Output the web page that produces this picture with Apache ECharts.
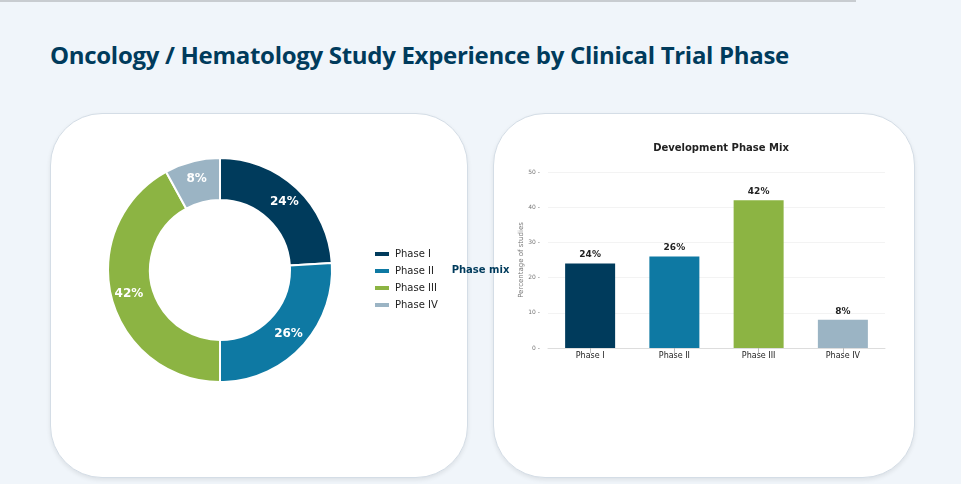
<!DOCTYPE html>
<html><head><meta charset="utf-8">
<script src="https://cdn.jsdelivr.net/npm/echarts@6/dist/echarts.min.js"></script>
<style>
html,body{margin:0;padding:0;width:961px;height:484px;background:#f0f5fa;overflow:hidden;font-family:"Open Sans",sans-serif}
#topline{position:absolute;left:0;top:0;width:856px;height:2px;background:#c8ccd0}
#title{position:absolute;left:50px;top:38px;font-family:"Open Sans",sans-serif;font-weight:700;font-size:24px;color:#003b5c;letter-spacing:-0.3px}
.card{position:absolute;top:113px;height:363px;background:#fff;border-radius:52px;border:1.5px solid #d4dde6;box-shadow:0 2px 4px rgba(0,0,0,0.08)}
#c{position:absolute;left:0;top:0;width:961px;height:484px}
</style></head><body>
<div id="topline"></div>
<div id="title">Oncology / Hematology Study Experience by Clinical Trial Phase</div>
<div class="card" style="left:50px;width:416px"></div>
<div class="card" style="left:493px;width:420px"></div>
<div id="c"></div>
<script>
const categories=['Phase I','Phase II','Phase III','Phase IV'];
const values=[24,26,42,8];
const colors=['#003b5c','#0e79a3','#8cb443','#9bb4c4'];
const yTicks=[0,10,20,30,40,50];
const chart=echarts.init(document.getElementById('c'));
chart.setOption({
  animation:false,
  textStyle:{fontFamily:'DejaVu Sans'},
  title:[{text:'Development Phase Mix',left:716,top:138,textAlign:'center',textStyle:{fontSize:10,fontWeight:'bold',color:'#222'}}],
  legend:{data:categories,orient:'vertical',left:368,top:244,itemWidth:16,itemHeight:6,itemGap:7,icon:'rect',textStyle:{fontSize:10,color:'#222'}},
  grid:{left:548,top:172,width:337,height:176},
  xAxis:{type:'category',data:categories,axisTick:{show:true,alignWithLabel:true,lineStyle:{color:'#bbb'}},axisLine:{lineStyle:{color:'#ddd'}},axisLabel:{fontSize:8,color:'#222',margin:4}},
  yAxis:{type:'value',min:0,max:50,interval:10,name:'Percentage of studies',nameLocation:'middle',nameGap:22,nameTextStyle:{fontSize:7,color:'#777'},
    axisLabel:{fontSize:6,color:'#777',formatter:v=>yTicks.includes(v)?v+' -':''},splitLine:{lineStyle:{color:'#f3f3f3'}},axisLine:{show:false},axisTick:{show:false}},
  series:[
    {type:'pie',radius:[70,112],center:[220,270],startAngle:90,
     itemStyle:{borderColor:'#fff',borderWidth:2},
     data:categories.map((c,i)=>({name:c,value:values[i],itemStyle:{color:colors[i]}})),
     label:{position:'inside',formatter:'{d}%',color:'#fff',fontSize:12,fontWeight:'bold'},labelLine:{show:false}},
    {type:'bar',barWidth:50,
     data:values.map((v,i)=>({value:v,itemStyle:{color:colors[i]}})),
     label:{show:true,position:'top',formatter:'{c}%',fontSize:9,fontWeight:'bold',color:'#222',distance:4}}
  ],
  graphic:[{type:'text',left:'center',x:0,style:{text:'Phase mix',x:220,y:270,align:'center',verticalAlign:'middle',fontSize:10,fontWeight:'bold',fill:'#003b5c',fontFamily:'DejaVu Sans'}}]
});
</script></body></html>
